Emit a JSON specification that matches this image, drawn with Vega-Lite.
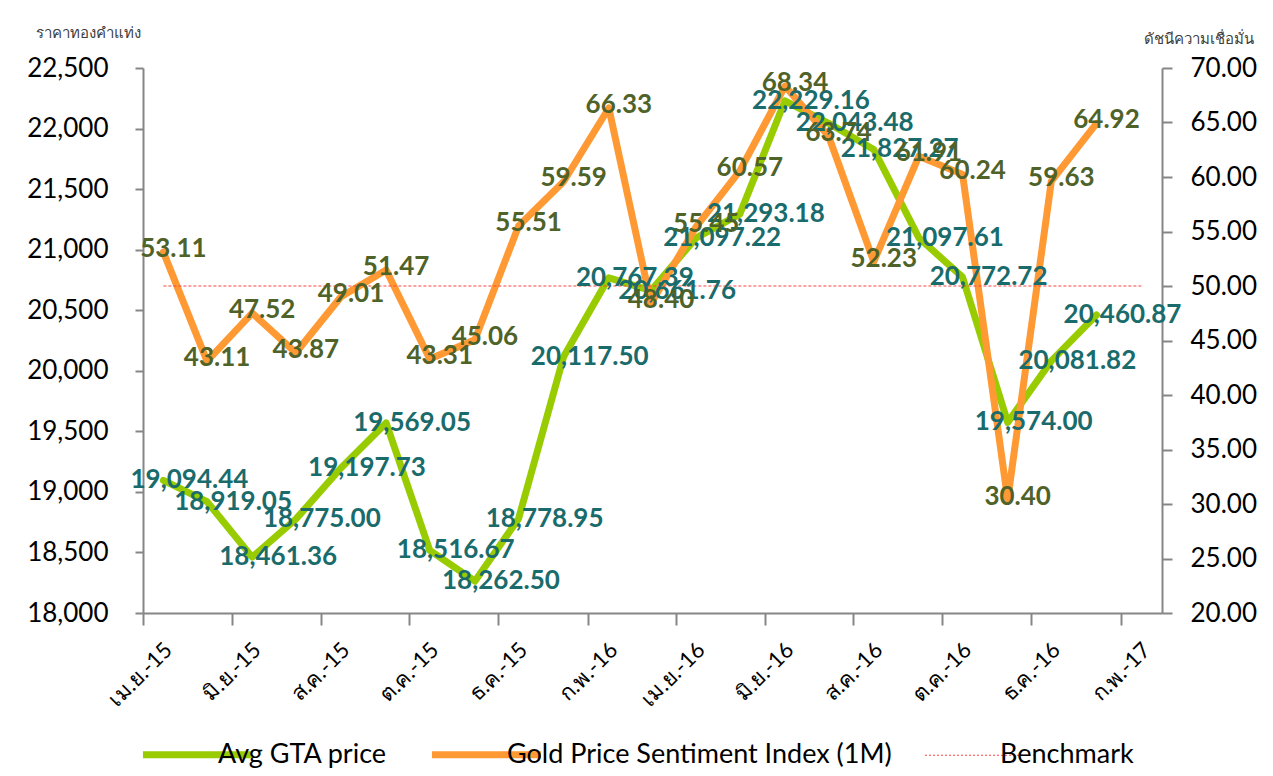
{
  "$schema": "https://vega.github.io/schema/vega-lite/v6.json",
  "width": 1019,
  "height": 545,
  "autosize": "none",
  "padding": {"left": 143, "top": 68, "right": 111, "bottom": 163},
  "background": "white",
  "config": {
    "view": {"stroke": null},
    "font": "Lato",
    "axis": {"domainColor": "#868686", "tickColor": "#868686", "domainWidth": 2, "tickWidth": 2, "grid": false, "labelFont": "Lato", "labelColor": "#000000", "titleFont": "Lato"}
  },
  "data": {
    "values": [
      {"date": "2015-04-15", "gta": 19094.44, "gsi": 53.11, "bench": 50},
      {"date": "2015-05-15", "gta": 18919.05, "gsi": 43.11, "bench": 50},
      {"date": "2015-06-15", "gta": 18461.36, "gsi": 47.52, "bench": 50},
      {"date": "2015-07-15", "gta": 18775.00, "gsi": 43.87, "bench": 50},
      {"date": "2015-08-15", "gta": 19197.73, "gsi": 49.01, "bench": 50},
      {"date": "2015-09-15", "gta": 19569.05, "gsi": 51.47, "bench": 50},
      {"date": "2015-10-15", "gta": 18516.67, "gsi": 43.31, "bench": 50},
      {"date": "2015-11-15", "gta": 18262.50, "gsi": 45.06, "bench": 50},
      {"date": "2015-12-15", "gta": 18778.95, "gsi": 55.51, "bench": 50},
      {"date": "2016-01-15", "gta": 20117.50, "gsi": 59.59, "bench": 50},
      {"date": "2016-02-15", "gta": 20767.39, "gsi": 66.33, "bench": 50},
      {"date": "2016-03-15", "gta": 20661.76, "gsi": 48.40, "bench": 50},
      {"date": "2016-04-15", "gta": 21097.22, "gsi": 55.45, "bench": 50},
      {"date": "2016-05-15", "gta": 21293.18, "gsi": 60.57, "bench": 50},
      {"date": "2016-06-15", "gta": 22229.16, "gsi": 68.34, "bench": 50},
      {"date": "2016-07-15", "gta": 22043.48, "gsi": 63.74, "bench": 50},
      {"date": "2016-08-15", "gta": 21827.27, "gsi": 52.23, "bench": 50},
      {"date": "2016-09-15", "gta": 21097.61, "gsi": 61.91, "bench": 50},
      {"date": "2016-10-15", "gta": 20772.72, "gsi": 60.24, "bench": 50},
      {"date": "2016-11-15", "gta": 19574.00, "gsi": 30.40, "bench": 50},
      {"date": "2016-12-15", "gta": 20081.82, "gsi": 59.63, "bench": 50},
      {"date": "2017-01-15", "gta": 20460.87, "gsi": 64.92, "bench": 50},
      {"date": "2017-02-15", "gta": null, "gsi": null, "bench": 50}
    ]
  },
  "encoding": {
    "x": {
      "field": "date",
      "type": "temporal",
      "scale": {"type": "utc", "domain": [{"year": 2015, "month": 4, "date": 1, "utc": true}, {"year": 2017, "month": 3, "date": 1, "utc": true}]},
      "axis": {
        "title": null,
        "values": [
          {"year": 2015, "month": 4, "date": 1, "utc": true},
          {"year": 2015, "month": 6, "date": 1, "utc": true},
          {"year": 2015, "month": 8, "date": 1, "utc": true},
          {"year": 2015, "month": 10, "date": 1, "utc": true},
          {"year": 2015, "month": 12, "date": 1, "utc": true},
          {"year": 2016, "month": 2, "date": 1, "utc": true},
          {"year": 2016, "month": 4, "date": 1, "utc": true},
          {"year": 2016, "month": 6, "date": 1, "utc": true},
          {"year": 2016, "month": 8, "date": 1, "utc": true},
          {"year": 2016, "month": 10, "date": 1, "utc": true},
          {"year": 2016, "month": 12, "date": 1, "utc": true},
          {"year": 2017, "month": 2, "date": 1, "utc": true}
        ],
        "labelExpr": "['ม.ค.','ก.พ.','มี.ค.','เม.ย.','พ.ค.','มิ.ย.','ก.ค.','ส.ค.','ก.ย.','ต.ค.','พ.ย.','ธ.ค.'][utcmonth(datum.value)] + '-' + utcFormat(datum.value, '%y')",
        "labelAngle": -45,
        "labelFontSize": 22,
        "labelOffset": 18,
        "labelPadding": 14,
        "tickSize": 12,
        "labelOverlap": false,
        "labelBound": false,
        "labelFlush": false
      }
    }
  },
  "layer": [
    {
      "mark": {"type": "line", "color": "#99CC00", "strokeWidth": 7, "strokeJoin": "round", "strokeCap": "round"},
      "encoding": {
        "y": {
          "field": "gta", "type": "quantitative",
          "scale": {"domain": [18000, 22500], "nice": false, "zero": false},
          "axis": {
            "orient": "left",
            "values": [18000, 18500, 19000, 19500, 20000, 20500, 21000, 21500, 22000, 22500],
            "format": ",.0f",
            "labelFontSize": 26,
            "labelPadding": 27,
            "tickSize": 8,
            "title": "ราคาทองคำแท่ง",
            "titleAngle": 0,
            "titleAlign": "left",
            "titleBaseline": "middle",
            "titleX": -108,
            "titleY": -36,
            "titleFontSize": 15,
            "titleFontWeight": "normal",
            "titleColor": "#404040"
          }
        },
        "color": {
          "datum": "Avg GTA price",
          "type": "nominal",
          "scale": {"domain": ["Avg GTA price", "Gold Price Sentiment Index (1M)", "Benchmark"], "range": ["#99CC00", "#FF9933", "#FF4040"]},
          "legend": {
            "title": null,
            "orient": "none",
            "direction": "horizontal",
            "legendX": 41,
            "legendY": 673,
            "symbolType": "stroke",
            "symbolSize": 11900,
            "symbolStrokeWidth": 7,
            "labelFontSize": 27,
            "labelFont": "Lato",
            "labelColor": "#000000",
            "labelOffset": 7,
            "columnPadding": 30,
            "labelLimit": 500,
            "encode": {
              "symbols": {
                "update": {
                  "strokeDash": {"signal": "datum.value === 'Benchmark' ? [2, 2] : [1, 0]"},
                  "strokeWidth": {"signal": "datum.value === 'Benchmark' ? 1 : 7"}
                }
              }
            }
          }
        }
      }
    },
    {
      "mark": {"type": "line", "color": "#FF9933", "strokeWidth": 7, "strokeJoin": "round", "strokeCap": "round"},
      "encoding": {
        "y": {
          "field": "gsi", "type": "quantitative",
          "scale": {"domain": [20, 70], "nice": false, "zero": false},
          "axis": {
            "orient": "right",
            "values": [20, 25, 30, 35, 40, 45, 50, 55, 60, 65, 70],
            "format": ".2f",
            "labelFontSize": 26,
            "labelPadding": 18,
            "tickSize": 10,
            "title": "ดัชนีความเชื่อมั่น",
            "titleAngle": 0,
            "titleAlign": "left",
            "titleBaseline": "middle",
            "titleX": -19,
            "titleY": -30,
            "titleFontSize": 15,
            "titleFontWeight": "normal",
            "titleColor": "#404040"
          }
        },
        "color": {"datum": "Gold Price Sentiment Index (1M)", "type": "nominal"}
      }
    },
    {
      "mark": {"type": "line", "strokeWidth": 1, "strokeDash": [3, 2]},
      "encoding": {
        "y": {"field": "bench", "type": "quantitative", "scale": {"domain": [20, 70], "nice": false, "zero": false}, "axis": null},
        "color": {"datum": "Benchmark", "type": "nominal"}
      }
    },
    {
      "mark": {"type": "text", "font": "Lato", "fontWeight": "bold", "fontSize": 26, "color": "#1A6B6B", "align": "center", "baseline": "middle", "dx": 26, "dy": 0},
      "encoding": {
        "y": {"field": "gta", "type": "quantitative", "scale": {"domain": [18000, 22500], "nice": false, "zero": false}, "axis": null},
        "text": {"field": "gta", "type": "quantitative", "format": ",.2f"}
      }
    },
    {
      "mark": {"type": "text", "font": "Lato", "fontWeight": "bold", "fontSize": 26, "color": "#4F6228", "align": "center", "baseline": "middle", "dx": 10, "dy": -3},
      "encoding": {
        "y": {"field": "gsi", "type": "quantitative", "scale": {"domain": [20, 70], "nice": false, "zero": false}, "axis": null},
        "text": {"field": "gsi", "type": "quantitative", "format": ".2f"}
      }
    }
  ],
  "resolve": {"scale": {"y": "independent"}}
}
